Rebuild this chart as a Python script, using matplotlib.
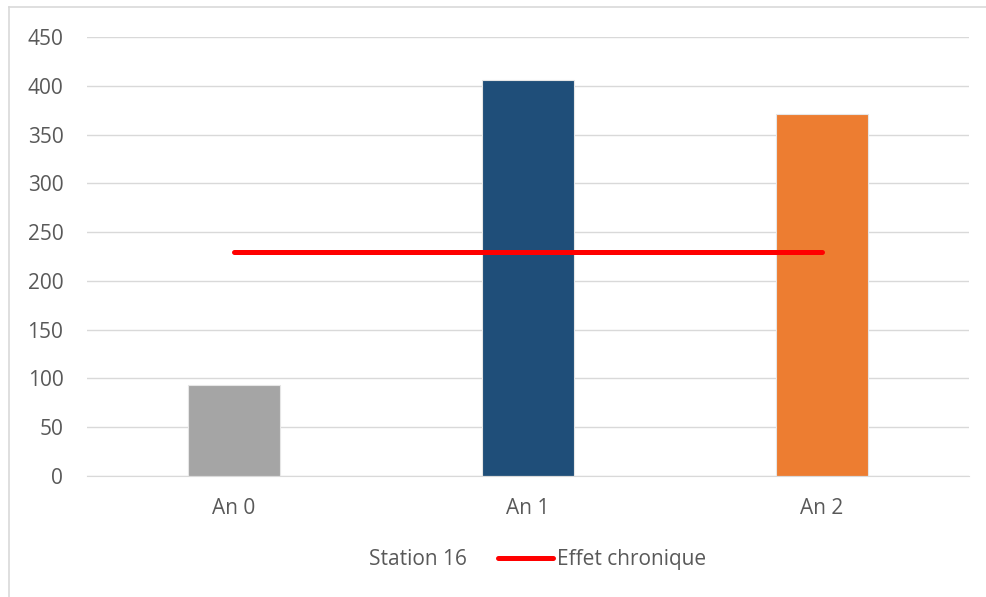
import matplotlib.pyplot as plt
from matplotlib.patches import Patch
from matplotlib.lines import Line2D

categories = ['An 0', 'An 1', 'An 2']
station_values = [93, 406, 371]
bar_colors = ['#a5a5a5', '#1f4e79', '#ed7d31']
chronic_effect = [230, 230, 230]

plt.rcParams['font.family'] = ['Open Sans', 'DejaVu Sans']
text_color = '#595959'
fs = 15

fig = plt.figure(figsize=(9.86, 5.97), dpi=100)
ax = fig.add_axes([0.0882, 0.2027, 0.8946, 0.7353])

x = list(range(len(categories)))
ax.bar(x, station_values, width=0.31, color=bar_colors, edgecolor='#e6e6e6',
       linewidth=0.8, zorder=2)
ax.plot(x, chronic_effect, color='#ff0000', linewidth=3.6, solid_capstyle='round',
        zorder=3)

ax.set_xlim(-0.5, 2.5)
ax.set_ylim(0, 450)
ax.set_yticks(range(0, 451, 50))
ax.set_xticks(x)
ax.set_xticklabels(categories)
ax.yaxis.grid(True, color='#d9d9d9', linewidth=1.0, zorder=0)
ax.set_axisbelow(True)
for side in ['top', 'right', 'left']:
    ax.spines[side].set_visible(False)
ax.spines['bottom'].set_color('#d9d9d9')
ax.tick_params(axis='both', length=0, labelsize=fs, labelcolor=text_color)
ax.tick_params(axis='y', pad=17)
ax.tick_params(axis='x', pad=16)

handles = [Patch(facecolor='none', edgecolor='none'),
           Line2D([0], [0], color='#ff0000', linewidth=3.6, solid_capstyle='round')]
fig.legend(handles, ['Station 16', 'Effet chronique'], loc='center',
           bbox_to_anchor=(0.515, 0.062), ncol=2, frameon=False,
           fontsize=fs, labelcolor=text_color, handlelength=2.65,
           handletextpad=0.2, columnspacing=1.5)

# frame around the chart area (only top and left edges visible)
fig.add_artist(Line2D([0.0095, 1.0], [0.988, 0.988], color='#d9d9d9', linewidth=1.2,
                      transform=fig.transFigure))
fig.add_artist(Line2D([0.0095, 0.0095], [0.0, 0.988], color='#d9d9d9', linewidth=1.2,
                      transform=fig.transFigure))

fig.savefig('out.png', dpi=100)
